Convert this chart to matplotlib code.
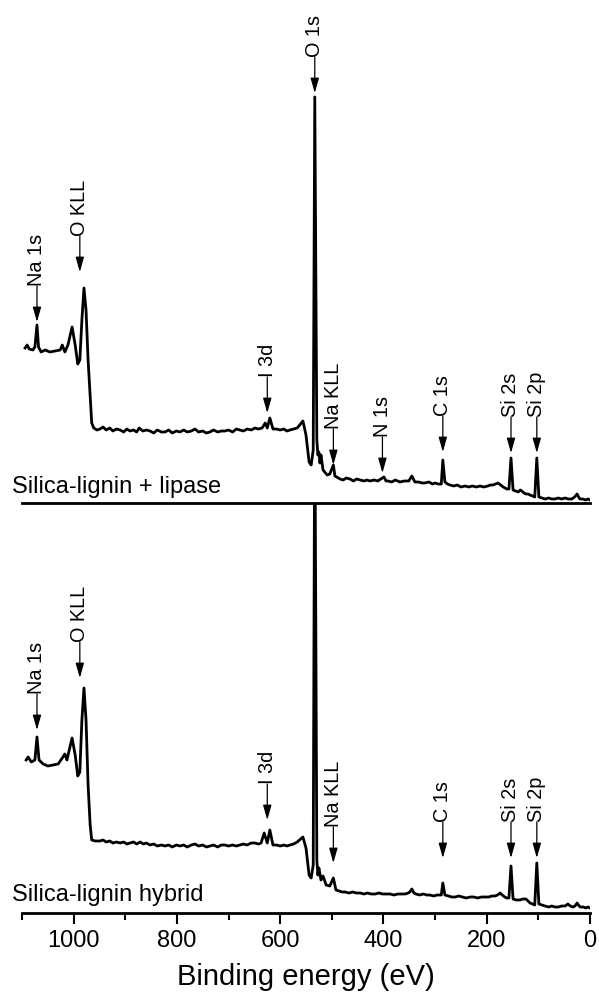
import matplotlib
matplotlib.use('Agg')
import matplotlib.pyplot as plt

plt.rcParams['font.family'] = ['Liberation Sans', 'DejaVu Sans']

# (binding energy eV, intensity a.u.)
spec_lipase = [
    (1094, 155), (1090, 158), (1086, 154), (1079, 153), (1075, 156), (1071, 178), (1068, 156),
    (1063, 151), (1055, 153), (1046, 151), (1036, 152), (1026, 153), (1022, 158), (1017, 151),
    (1011, 158), (1003, 176), (997, 158), (992, 139), (988, 143), (984, 183), (980, 215),
    (976, 193), (972, 143), (968, 108), (965, 80), (961, 75), (955, 73), (949, 74), (943, 76),
    (937, 73), (930, 75), (924, 72), (917, 74), (910, 73), (903, 71), (897, 74), (891, 72),
    (884, 73), (878, 71), (873, 75), (866, 72), (859, 73), (852, 72), (845, 70), (838, 73),
    (830, 71), (823, 71), (816, 73), (809, 70), (801, 72), (794, 71), (787, 73), (780, 71),
    (772, 72), (765, 74), (758, 71), (750, 72), (743, 70), (736, 71), (729, 73), (721, 71),
    (714, 72), (707, 72), (700, 73), (692, 71), (685, 74), (678, 73), (671, 72), (664, 74),
    (656, 73), (649, 75), (642, 74), (635, 75), (629, 80), (625, 75), (620, 85), (614, 74),
    (607, 74), (600, 73), (593, 74), (587, 72), (581, 73), (574, 74), (567, 75), (556, 82),
    (550, 68), (544, 41), (540, 38), (536, 53), (533, 406), (529, 63), (527, 48), (525, 51),
    (523, 40), (521, 48), (517, 33), (509, 28), (504, 29), (497, 38), (494, 27), (484, 24),
    (478, 23), (472, 25), (465, 24), (458, 22), (452, 24), (445, 23), (438, 22), (432, 23),
    (426, 22), (418, 23), (411, 22), (405, 24), (399, 26), (395, 22), (391, 22), (384, 21),
    (377, 23), (368, 21), (360, 22), (351, 22), (345, 27), (339, 21), (332, 21), (325, 20),
    (320, 20), (312, 21), (305, 19), (300, 20), (294, 19), (288, 19), (285, 43), (281, 21),
    (276, 19), (271, 18), (264, 17), (257, 18), (250, 16), (242, 17), (235, 16), (228, 17),
    (220, 16), (213, 17), (206, 16), (198, 17), (193, 18), (188, 18), (183, 19), (178, 20),
    (173, 18), (168, 16), (161, 14), (157, 14), (153, 45), (149, 13), (144, 12), (139, 11),
    (135, 13), (132, 12), (128, 10), (124, 9), (120, 9), (116, 8), (111, 7), (107, 6),
    (103, 45), (99, 6), (93, 5), (87, 4), (80, 5), (74, 4), (68, 4), (61, 5), (55, 4),
    (48, 5), (42, 4), (35, 4), (30, 6), (25, 9), (21, 5), (19, 4), (14, 4), (8, 3), (4, 4),
    (0, 3),
]

spec_hybrid = [
    (1092, 153), (1088, 156), (1082, 151), (1075, 153), (1071, 176), (1067, 153), (1059, 149),
    (1050, 147), (1040, 148), (1030, 149), (1022, 155), (1017, 159), (1013, 153), (1003, 175),
    (997, 158), (992, 137), (988, 141), (984, 193), (980, 225), (976, 193), (972, 128),
    (968, 88), (965, 73), (958, 72), (949, 72), (943, 73), (937, 71), (930, 72), (924, 70),
    (917, 71), (910, 70), (903, 71), (897, 69), (891, 70), (884, 71), (878, 69), (871, 71),
    (865, 69), (859, 70), (852, 68), (845, 69), (838, 67), (830, 68), (823, 67), (816, 68),
    (809, 66), (801, 68), (794, 67), (787, 68), (780, 66), (772, 68), (765, 69), (758, 67),
    (750, 68), (743, 66), (736, 67), (729, 68), (721, 66), (714, 68), (707, 68), (700, 67),
    (692, 68), (685, 67), (678, 68), (671, 69), (664, 68), (656, 70), (649, 70), (642, 69),
    (637, 70), (631, 80), (625, 70), (620, 83), (614, 68), (607, 68), (600, 67), (593, 68),
    (587, 67), (581, 68), (574, 69), (567, 71), (556, 76), (550, 65), (544, 38), (540, 35),
    (536, 48), (533, 520), (529, 53), (527, 38), (525, 45), (521, 33), (517, 37), (511, 28),
    (504, 27), (497, 35), (492, 23), (486, 22), (480, 21), (474, 21), (467, 20), (460, 21),
    (452, 20), (445, 20), (438, 19), (431, 20), (424, 19), (416, 19), (409, 20), (402, 19),
    (394, 19), (387, 19), (380, 18), (372, 19), (365, 19), (358, 19), (352, 20), (349, 21),
    (345, 24), (341, 20), (337, 19), (330, 18), (323, 19), (316, 18), (310, 18), (303, 17),
    (296, 18), (288, 18), (285, 30), (281, 18), (274, 17), (268, 16), (261, 16), (254, 17),
    (247, 16), (240, 15), (232, 16), (225, 16), (218, 15), (210, 16), (203, 16), (196, 16),
    (190, 17), (184, 17), (179, 18), (174, 20), (170, 18), (165, 16), (161, 15), (157, 15),
    (153, 47), (149, 14), (143, 13), (136, 13), (130, 14), (124, 14), (120, 12), (116, 10),
    (111, 9), (107, 8), (103, 50), (99, 9), (93, 8), (87, 7), (80, 6), (74, 7), (68, 6),
    (61, 6), (55, 7), (48, 7), (43, 9), (38, 7), (33, 6), (29, 7), (25, 10), (21, 7),
    (19, 6), (13, 6), (8, 5), (4, 6), (0, 5),
]

# peak labels: (label, energy, arrow tip height)
peaks_lipase = [('Na 1s', 1071, 181), ('O KLL', 988, 231), ('I 3d', 625, 90), ('O 1s', 533, 410),
                ('Na KLL', 497, 38), ('N 1s', 402, 30), ('C 1s', 285, 51),
                ('Si 2s', 153, 50), ('Si 2p', 103, 50)]
peaks_hybrid = [('Na 1s', 1071, 183), ('O KLL', 988, 235), ('I 3d', 625, 93),
                ('Na KLL', 497, 50), ('C 1s', 285, 55), ('Si 2s', 153, 55), ('Si 2p', 103, 55)]

major_ticks = [1000, 800, 600, 400, 200, 0]
minor_ticks = [1100, 900, 700, 500, 300, 100]

fig = plt.figure(figsize=(5.99, 9.99), dpi=100)
ax_bot = fig.add_axes([22/599, 86/999, 568/599, 410/999])
ax_top = fig.add_axes([22/599, 496/999, 568/599, 503/999])
ax_bot.patch.set_visible(False)
ax_top.patch.set_visible(False)


def draw_panel(ax, spec, peaks, ymax, name, name_y):
    energy = [p[0] for p in spec]
    counts = [p[1] for p in spec]
    ax.plot(energy, counts, color='black', lw=2.0)
    ax.set_xlim(1100, 0)
    ax.set_ylim(0, ymax)
    for side in ['left', 'right', 'top']:
        ax.spines[side].set_visible(False)
    ax.spines['bottom'].set_linewidth(2)
    ax.set_yticks([])
    for label, e, tip in peaks:
        ax.annotate('', xy=(e, tip), xytext=(0, 26), textcoords='offset points',
                    arrowprops=dict(arrowstyle='-|>,head_length=0.6,head_width=0.17',
                                    color='black', lw=0.9, mutation_scale=15,
                                    shrinkA=0, shrinkB=0))
        ax.annotate(label, xy=(e, tip), xytext=(0, 26), textcoords='offset points',
                    rotation=90, ha='center', va='bottom', fontsize=14.3)
    ax.text(-0.018, name_y, name, transform=ax.transAxes, fontsize=17,
            ha='left', va='baseline')


draw_panel(ax_top, spec_lipase, peaks_lipase, 503, 'Silica-lignin + lipase', 0.02)
draw_panel(ax_bot, spec_hybrid, peaks_hybrid, 410, 'Silica-lignin hybrid', 0.029)

ax_top.set_xticks([])

ax_bot.set_xticks(major_ticks)
ax_bot.set_xticks(minor_ticks, minor=True)
ax_bot.tick_params(axis='x', which='major', length=8, width=1.5, labelsize=17, pad=4)
ax_bot.tick_params(axis='x', which='minor', length=5, width=1.5)
ax_bot.set_xlabel('Binding energy (eV)', fontsize=21, labelpad=8)

plt.savefig('out.png', dpi=100)
